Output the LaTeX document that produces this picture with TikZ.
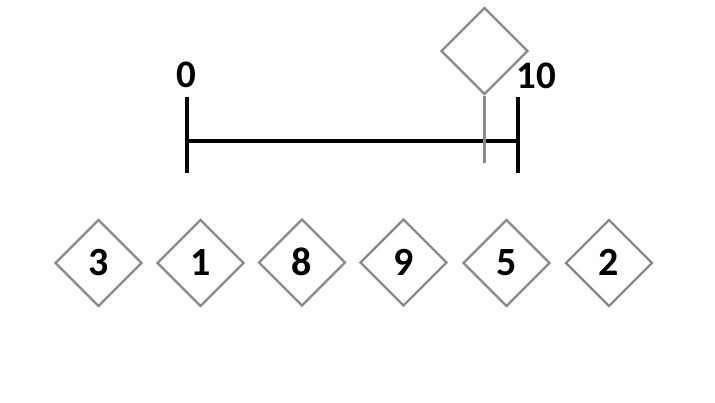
\documentclass[tikz,border=0pt]{standalone}
\usepackage{fontspec}
\setmainfont{Carlito}
\usetikzlibrary{shapes.geometric}
\definecolor{pgray}{HTML}{8A8A8A}
\tikzset{
  card/.style={draw=pgray, line width=2.3pt, shape=diamond, aspect=1,
    minimum width=87pt, minimum height=87pt, inner sep=0pt,
    text height=25pt, text depth=0pt,
    font=\fontsize{40}{40}\selectfont\bfseries},
  axis/.style={line width=3.4pt, black},
  lbl/.style={font=\fontsize{39}{39}\selectfont\bfseries, inner sep=0pt}
}
\begin{document}
\begin{tikzpicture}[x=1pt,y=-1pt]
\useasboundingbox (0,0) rectangle (715,402);
% axis
\coordinate (l0) at (187,97);
\coordinate (l1) at (187,173);
\coordinate (r0) at (518,97);
\coordinate (r1) at (518,173);
\coordinate (lm) at (187,141);
\coordinate (rm) at (518,141);
\draw[axis] (l0) -- (l1);
\draw[axis] (r0) -- (r1);
\draw[axis] (lm) -- (rm);
\node[lbl] (z) at (186,75) {0};
\node[lbl] (t) at (536,76) {10};
% pointer
\node[card] (p) at (484.5,51) {};
\coordinate (pe) at (484.5,163);
\draw[pgray, line width=2.8pt] (p.south) -- (pe);
% cards
\node[card] (c3) at (98.5,263) {3};
\node[card] (c1) at (200.5,263) {1};
\node[card] (c8) at (302,262.5) {8};
\node[card] (c9) at (403.5,262.5) {9};
\node[card] (c5) at (506.5,263) {5};
\node[card] (c2) at (609,263) {2};
\end{tikzpicture}
\end{document}
